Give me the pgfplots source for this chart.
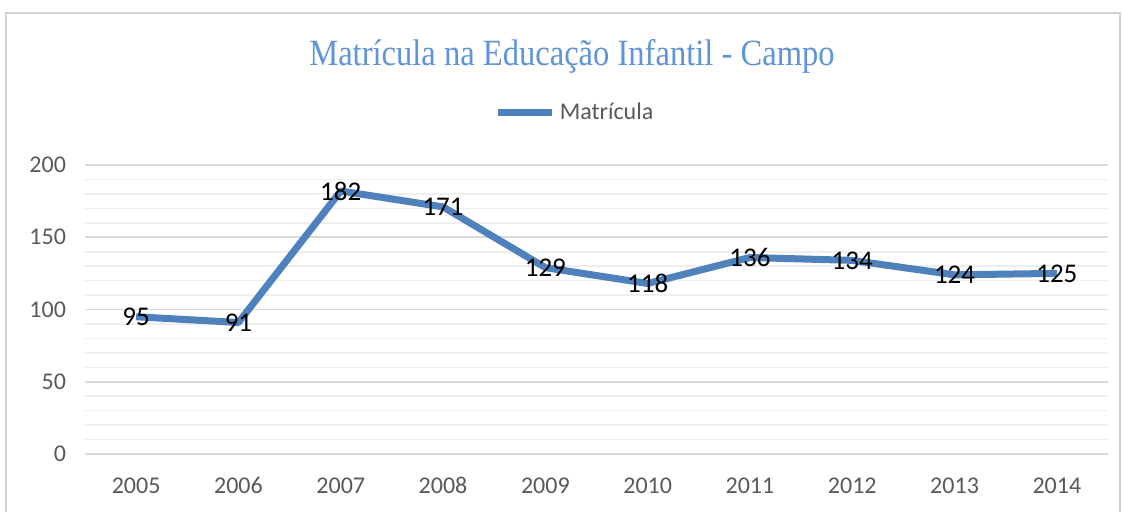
\documentclass[border=0pt]{standalone}
\usepackage{fontspec}
\setmainfont{Carlito}
\newfontfamily\titlefont{Liberation Serif}
\usepackage{pgfplots}
\pgfplotsset{compat=1.18}

\definecolor{linblue}{RGB}{79,129,189}
\definecolor{titblue}{RGB}{95,148,215}
\definecolor{txtgray}{RGB}{89,89,89}
\definecolor{majgrid}{RGB}{217,217,217}
\definecolor{mingrid}{RGB}{238,238,238}
\definecolor{frame}{RGB}{210,210,210}

\begin{document}
\begin{tikzpicture}
\useasboundingbox (0,0) rectangle (561.5pt,255.5pt);
\fill[white] (0,0) rectangle (561.5pt,255.5pt);
\draw[frame, line width=1pt] (3pt,-5pt) -- (3pt,249pt) -- (560pt,249pt) -- (560pt,-5pt);
\begin{axis}[
    at={(42.5pt,28.5pt)}, anchor=south west,
    scale only axis,
    width=511.5pt, height=144.5pt,
    xmin=-0.5, xmax=9.5,
    ymin=0, ymax=200,
    xtick={0,...,9},
    xticklabels={2005,2006,2007,2008,2009,2010,2011,2012,2013,2014},
    ytick={0,50,...,200},
    minor y tick num=4,
    ymajorgrids, yminorgrids,
    major grid style={majgrid, line width=0.8pt},
    minor grid style={mingrid, line width=0.8pt},
    axis line style={draw=none},
    major tick length=0pt, minor tick length=0pt,
    tick label style={font=\fontsize{12}{14}\selectfont, text=txtgray},
    /pgf/number format/assume math mode=true,
    yticklabel style={xshift=-6pt},
    xticklabel style={text height=8pt, text depth=1pt, yshift=-8pt},
    title={\titlefont\fontsize{18.5}{21}\selectfont\scalebox{0.88}[1]{Matrícula na Educação Infantil - Campo}},
    title style={at={(rel axis cs:0.476,1.335)}, anchor=center, text=titblue},
    legend style={at={(rel axis cs:0.48,1.18)}, anchor=center, draw=none,
        font=\fontsize{12}{14}\selectfont, text=txtgray, inner sep=0pt},
    legend cell align=left,
    legend image code/.code={\draw[#1, line width=3.5pt] (0pt,0pt) -- (27pt,0pt);},
    clip=false,
]
\addplot[linblue, line width=3.5pt, line join=round, mark=none,
    nodes near coords,
    every node near coord/.append style={anchor=center, text=black,
        font=\fontsize{13.5}{15}\selectfont}]
    coordinates {
    (0,95) (1,91) (2,182) (3,171) (4,129)
    (5,118) (6,136) (7,134) (8,124) (9,125)
};
\addlegendentry{Matrícula}
\draw[majgrid, line width=1pt] (rel axis cs:0,0) -- (rel axis cs:1,0);
\end{axis}
\end{tikzpicture}
\end{document}
